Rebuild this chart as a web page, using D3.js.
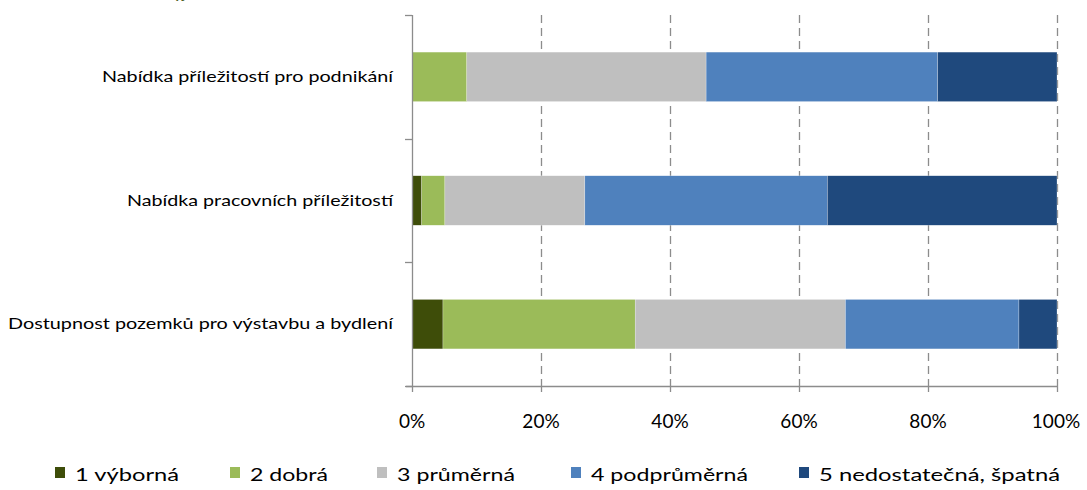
<!DOCTYPE html>
<html><head><meta charset="utf-8">
<script src="https://cdn.jsdelivr.net/npm/d3@7"></script>
<style>
html,body{margin:0;padding:0;background:#fff;}
svg{display:block;font-family:Lato,"Open Sans",sans-serif;}
</style></head>
<body>
<svg id="chart" width="1087" height="490"></svg>
<script>
const categories = [
  "Nabídka příležitostí pro podnikání",
  "Nabídka pracovních příležitostí",
  "Dostupnost pozemků pro výstavbu a bydlení"
];
const seriesNames = ["1 výborná","2 dobrá","3 průměrná","4 podprůměrná","5 nedostatečná, špatná"];
const s1 = [0.0, 1.5, 4.8];
const s2 = [8.5, 3.6, 29.8];
const s3 = [37.1, 21.7, 32.6];
const s4 = [35.9, 37.6, 26.9];
const s5 = [18.5, 35.6, 5.9];
const tickValues = [0, 20, 40, 60, 80, 100];
const tickLabels = ["0%","20%","40%","60%","80%","100%"];
const colors = ["#3e4d09","#9bbb59","#bfbfbf","#4f81bd","#1f497d"];

const svg = d3.select("#chart");
const pLeft = 412, pRight = 1057, pTop = 15, pBottom = 386;

const x = d3.scaleLinear().domain([0,100]).range([pLeft,pRight]);
const y = d3.scaleBand().domain(categories).range([pTop,pBottom]).paddingInner(0.6).paddingOuter(0.3);

// cut-off title (only its lowest pixels are visible in the reference)
svg.append("text").attr("x",50).attr("y",-1)
  .attr("font-size",14).attr("font-weight","bold").attr("fill","#4f6228")
  .attr("textLength",175).attr("lengthAdjust","spacingAndGlyphs")
  .text("Hodnocení obce – vyjádření");

// gridlines
svg.append("g").selectAll("line").data(tickValues.filter(v=>v>0)).join("line")
  .attr("x1",d=>x(d)+0.5).attr("x2",d=>x(d)+0.5)
  .attr("y1",pTop).attr("y2",pBottom)
  .attr("stroke","#8c8c8c").attr("stroke-width",1.3).attr("stroke-dasharray","8,5");

// stacked bars
const series = [s1,s2,s3,s4,s5];
const rows = categories.map((c,i)=>{ const o={cat:c}; series.forEach((s,k)=>o["k"+k]=s[i]); return o; });
const stack = d3.stack().keys(series.map((s,k)=>"k"+k))(rows);
svg.append("g").selectAll("g").data(stack).join("g")
  .attr("fill",(d,i)=>colors[i])
  .selectAll("rect").data(d=>d).join("rect")
  .attr("x",d=>x(d[0])).attr("width",d=>Math.max(0,x(d[1])-x(d[0])))
  .attr("y",d=>y(d.data.cat)).attr("height",y.bandwidth())
  .attr("stroke","#ffffff").attr("stroke-width",0.4).attr("stroke-opacity",d=>d[1]-d[0]>0?0.6:0);

// left axis line + ticks
const yTicks = [pTop, pTop+(pBottom-pTop)/3, pTop+2*(pBottom-pTop)/3, pBottom];
svg.append("line").attr("x1",pLeft+0.5).attr("x2",pLeft+0.5).attr("y1",pTop).attr("y2",pBottom)
  .attr("stroke","#8c8c8c").attr("stroke-width",1.3);
svg.append("g").selectAll("line").data(yTicks).join("line")
  .attr("x1",pLeft-7).attr("x2",pLeft).attr("y1",d=>Math.round(d)+0.5).attr("y2",d=>Math.round(d)+0.5)
  .attr("stroke","#8c8c8c").attr("stroke-width",1.3);

// bottom axis
svg.append("line").attr("x1",pLeft-6).attr("x2",pRight+1).attr("y1",pBottom+0.5).attr("y2",pBottom+0.5)
  .attr("stroke","#8c8c8c").attr("stroke-width",1.3);
svg.append("g").selectAll("line").data(tickValues).join("line")
  .attr("x1",d=>x(d)+0.5).attr("x2",d=>x(d)+0.5).attr("y1",pBottom).attr("y2",pBottom+6)
  .attr("stroke","#8c8c8c").attr("stroke-width",1.3);
svg.append("g").selectAll("text").data(tickValues).join("text")
  .attr("x",d=>x(d)+ (d===100?-1:0)).attr("y",428).attr("text-anchor","middle")
  .attr("font-size",19).attr("fill","#000")
  .text((d,i)=>tickLabels[i]);

// category labels
const labelWidths = [291, 266, 385];
svg.append("g").selectAll("text").data(categories).join("text")
  .attr("x",393).attr("y",d=>y(d)+y.bandwidth()/2+5).attr("text-anchor","end")
  .attr("font-size",15).attr("fill","#000")
  .attr("textLength",(d,i)=>labelWidths[i]).attr("lengthAdjust","spacingAndGlyphs")
  .text(d=>d);

// legend
const legX = [55, 230, 377, 571, 799];
const legW = [104, 78, 118, 157, 241];
const lg = svg.append("g").selectAll("g").data(seriesNames).join("g")
  .attr("transform",(d,i)=>`translate(${legX[i]},0)`);
lg.append("rect").attr("x",0).attr("y",467).attr("width",10).attr("height",11).attr("fill",(d,i)=>colors[i]);
lg.append("text").attr("x",20).attr("y",481).attr("font-size",18).attr("fill","#000")
  .attr("textLength",(d,i)=>legW[i]).attr("lengthAdjust","spacingAndGlyphs")
  .text(d=>d);
</script>
</body></html>
